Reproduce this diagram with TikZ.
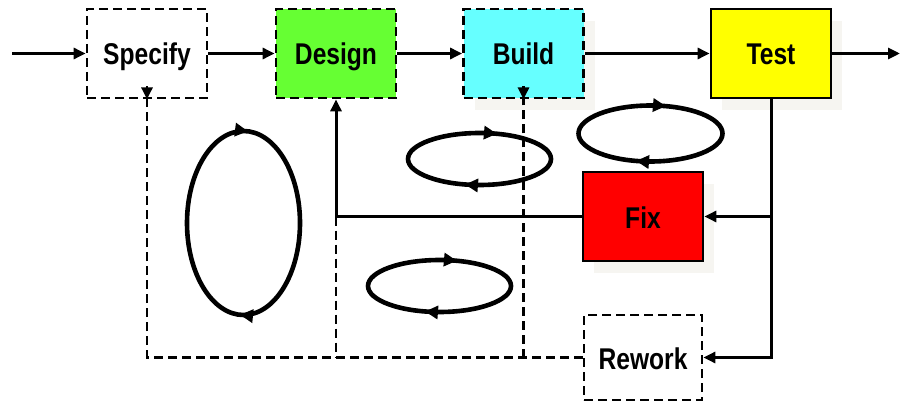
\documentclass[tikz,border=0pt]{standalone}
\usepackage{fontspec}
\setmainfont{Liberation Sans}
\newfontfamily\labelfont[FakeStretch=0.82]{Liberation Sans}
\usetikzlibrary{arrows.meta,shadows,decorations.markings}
\definecolor{shadowc}{RGB}{246,245,241}
\definecolor{designc}{RGB}{102,255,51}
\definecolor{buildc}{RGB}{102,255,255}
\definecolor{testc}{RGB}{255,255,0}
\definecolor{fixc}{RGB}{255,0,0}
\tikzset{
  stage/.style={draw=black, line width=2.8pt, minimum width=120pt, minimum height=89pt,
    inner sep=0pt, text height=23pt, text depth=0pt,
    font=\labelfont\bfseries\fontsize{30}{30}\selectfont},
  dashedstage/.style={stage, dash pattern=on 9pt off 5pt},
  shadowed/.style={drop shadow={shadow xshift=11pt, shadow yshift=-12pt, fill=shadowc, opacity=1}},
  tip/.style={-{Triangle[length=12pt,width=11pt]}},
  flow/.style={line width=3pt, tip},
  dashflow/.style={line width=2.8pt, dash pattern=on 9pt off 5pt},
  cyc/.style 2 args={line width=4.6pt, postaction={decorate}, decoration={markings,
    mark=at position #1 with {\arrow{Triangle[length=13pt,width=13pt]}},
    mark=at position #2 with {\arrow{Triangle[length=13pt,width=13pt]}}}}
}
\begin{document}
\begin{tikzpicture}[x=1pt,y=-1pt]
\useasboundingbox (0,0) rectangle (901,406);
% stages of the process
\node[dashedstage, fill=white] (spec) at (147,53.5) {Specify};
\node[dashedstage, fill=designc] (des) at (336,53.5) {Design};
\node[dashedstage, fill=buildc, shadowed] (build) at (523.5,53.5) {Build};
\node[stage, fill=testc, shadowed] (test) at (771,53.5) {Test};
\node[stage, fill=fixc, shadowed] (fix) at (643,216.5) {Fix};
\node[dashedstage, fill=white, minimum width=118pt, minimum height=85pt] (rew) at (643,357.5) {Rework};
% main line
\coordinate (in) at (12,53.5);
\coordinate (out) at (900,53.5);
\draw[flow] (in) -- (spec);
\draw[flow] (spec) -- (des);
\draw[flow] (des) -- (build);
\draw[flow] (build) -- (test);
\draw[flow] (test) -- (out);
% feedback paths
\draw[flow] (test.south) |- (fix.east);
\draw[flow] (test.south) |- (rew.east);
\draw[flow] (fix.west) -| (des.south);
\draw[dashflow] (des.south |- fix.west) -- (des.south |- rew.west);
\draw[dashflow] (rew.west) -| (spec.south);
\draw[dashflow] (build.south |- rew.west) -- (build.south);
\draw[tip, line width=2.8pt] ([yshift=13pt]spec.south) -- (spec.south);
\draw[tip, line width=2.8pt] ([yshift=13pt]build.south) -- (build.south);
% iteration cycles
\draw[cyc={0.2574}{0.7595}] (243.5,223) ellipse [x radius=56.5, y radius=92];
\draw[cyc={0.295}{0.804}] (479.5,159) ellipse [x radius=71.5, y radius=26];
\draw[cyc={0.295}{0.804}] (439.5,286) ellipse [x radius=71.5, y radius=26];
\draw[cyc={0.294}{0.797}] (650.5,133.5) ellipse [x radius=72, y radius=28];
\end{tikzpicture}
\end{document}
